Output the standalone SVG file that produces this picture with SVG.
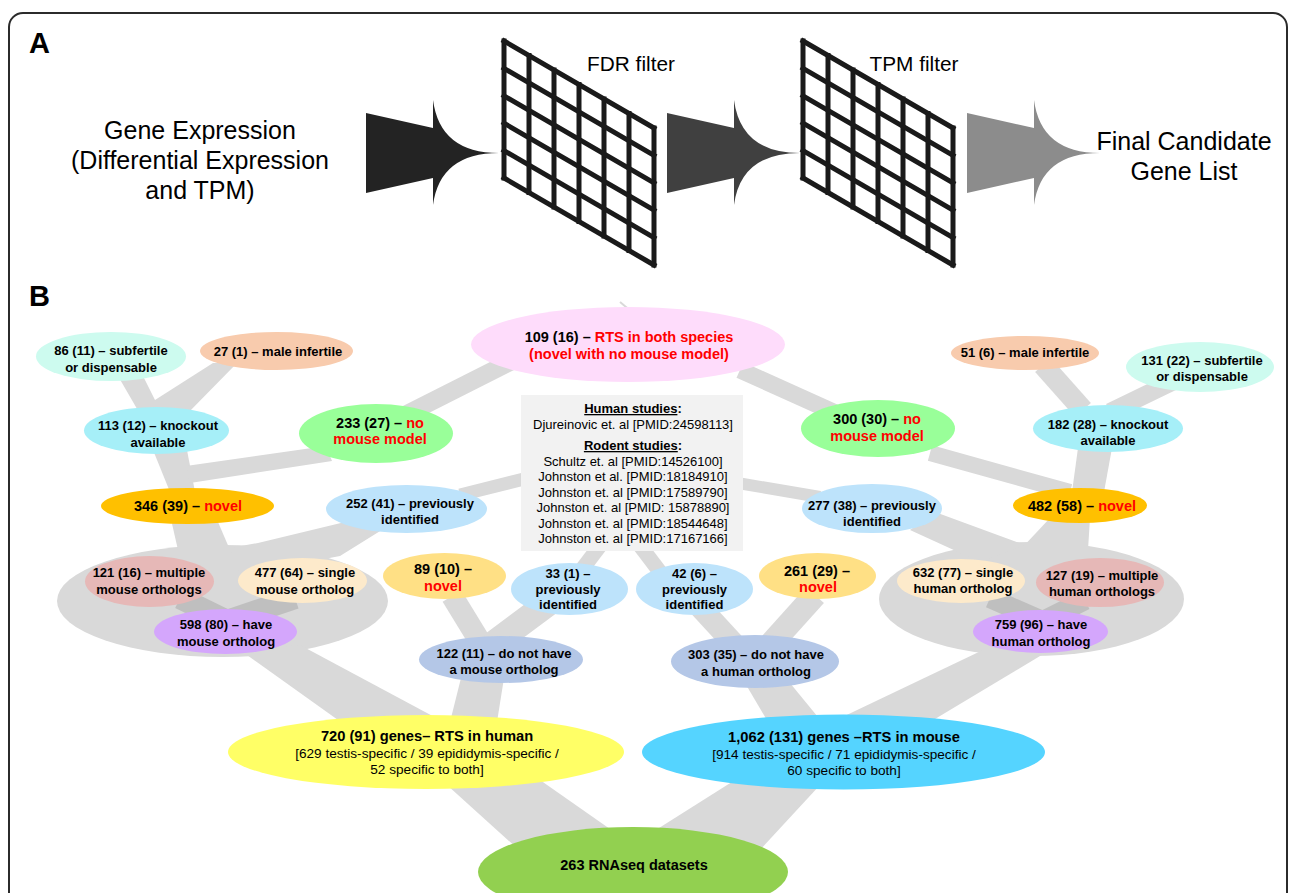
<svg xmlns="http://www.w3.org/2000/svg" width="1290" height="893" viewBox="0 0 1290 893">
<style>
text{font-family:"Liberation Sans",Arial,sans-serif;text-anchor:middle;fill:#000}
.t{font-weight:bold;font-size:13px}
.tl{font-weight:bold;font-size:14.5px}
.tt{font-weight:bold;font-size:14.7px}
.ts{font-size:13.6px}
.bx{font-size:13px}
.red{fill:#ff0000}
.big{font-size:25px}
.flt{font-size:20.8px}
.lab{font-weight:bold;font-size:29px;text-anchor:start}
.br{fill:#d9d9d9}
.ln{stroke:#d9d9d9;fill:none}
.dk{stroke:#bfbfbf;fill:none}
.grid line{stroke:#1a1a1a;stroke-width:5;stroke-linecap:square}
</style>
<defs>
<g id="grid" class="grid">
<line x1="504" y1="41" x2="504" y2="178"/>
<line x1="529" y1="55.5" x2="529" y2="192.5"/>
<line x1="554" y1="70" x2="554" y2="207"/>
<line x1="579" y1="84.5" x2="579" y2="221.5"/>
<line x1="604" y1="99" x2="604" y2="236"/>
<line x1="629" y1="113.5" x2="629" y2="250.5"/>
<line x1="654" y1="128" x2="654" y2="265"/>
<line x1="504" y1="41" x2="654" y2="128"/>
<line x1="504" y1="68.4" x2="654" y2="155.4"/>
<line x1="504" y1="95.8" x2="654" y2="182.8"/>
<line x1="504" y1="123.2" x2="654" y2="210.2"/>
<line x1="504" y1="150.6" x2="654" y2="237.6"/>
<line x1="504" y1="178" x2="654" y2="265"/>
</g>
<path id="arrow" d="M0,113 L67,128 L67,100 Q74,153 133,153 Q74,153 67,205 L67,178 L0,193 Z"/>
</defs>

<rect x="9" y="13" width="1278" height="920" rx="14" fill="none" stroke="#2b2b2b" stroke-width="2"/>

<g id="panel-a">
<text class="lab" x="29" y="53">A</text>
<g id="a-input">
<text class="big" x="200" y="139">Gene Expression</text>
<text class="big" x="200" y="169">(Differential Expression</text>
<text class="big" x="200" y="199">and TPM)</text>
</g>
<use href="#arrow" x="366" fill="#232323"/>
<g id="a-fdr">
<use href="#grid"/>
<text class="flt" x="631" y="71">FDR filter</text>
</g>
<use href="#arrow" x="667" fill="#404040"/>
<g id="a-tpm">
<use href="#grid" x="299"/>
<text class="flt" x="914" y="71">TPM filter</text>
</g>
<use href="#arrow" x="967" fill="#8c8c8c"/>
<g id="a-output">
<text class="big" x="1184" y="150">Final Candidate</text>
<text class="big" x="1184" y="180">Gene List</text>
</g>
</g>

<text class="lab" x="29" y="306">B</text>

<g id="clusters">
<ellipse cx="222.5" cy="601" rx="165.5" ry="56" fill="#d9d9d9"/>
<ellipse cx="1031.5" cy="599" rx="152.5" ry="57" fill="#d9d9d9"/>
</g>

<g id="connectors">
<polygon class="br" points="447,785 540,780 640,850 530,860"/>
<polygon class="br" points="640,840 735,780 820,785 760,850"/>
<polygon class="br" points="240,650 300,645 440,720 345,725"/>
<polygon class="br" points="450,722 497,722 504,678 461,678"/>
<line class="ln" x1="482" y1="645" x2="452" y2="596" stroke-width="22"/>
<line class="ln" x1="492" y1="645" x2="555" y2="598" stroke-width="26"/>
<polygon class="br" points="170,515 215,515 230,550 178,550"/>
<polygon class="br" points="230,548 258,543 345,522 385,528 340,556 240,575"/>
<polygon class="br" points="153,450 187,450 195,492 170,492"/>
<polygon class="br" points="186,466 190,483 332,461 326,446"/>
<polygon class="br" points="118,376 143,376 155,400 213,363 237,363 187,414 140,414"/>
<line class="ln" x1="405" y1="415" x2="510" y2="362" stroke-width="18"/>
<line class="ln" x1="460" y1="495" x2="540" y2="475" stroke-width="13"/>
<line class="ln" x1="580" y1="572" x2="602" y2="543" stroke-width="15"/>
<line class="ln" x1="660" y1="572" x2="638" y2="543" stroke-width="15"/>
<line class="ln" x1="740" y1="370" x2="840" y2="415" stroke-width="17"/>
<line class="ln" x1="720" y1="480" x2="820" y2="497" stroke-width="12"/>
<line class="ln" x1="930" y1="453" x2="1070" y2="492" stroke-width="16"/>
<polygon class="br" points="1078,448 1112,448 1104,492 1072,492"/>
<polygon class="br" points="1050,518 1090,518 1088,550 1020,550"/>
<polygon class="br" points="935,512 1025,545 980,562 910,530"/>
<line class="ln" x1="1083" y1="410" x2="1043" y2="365" stroke-width="21"/>
<line class="ln" x1="1110" y1="412" x2="1172" y2="382" stroke-width="18"/>
<polygon class="br" points="983,650 1050,650 930,722 832,722"/>
<polygon class="br" points="745,683 790,683 822,722 768,722"/>
<line class="ln" x1="735" y1="645" x2="700" y2="607" stroke-width="22"/>
<line class="ln" x1="770" y1="645" x2="815" y2="595" stroke-width="24"/>
<line class="dk" x1="225" y1="620" x2="180" y2="598" stroke-width="22"/>
<line class="dk" x1="230" y1="620" x2="295" y2="598" stroke-width="22"/>
<line class="dk" x1="1040" y1="620" x2="990" y2="598" stroke-width="20"/>
<line class="dk" x1="1045" y1="620" x2="1085" y2="600" stroke-width="20"/>
<line class="ln" x1="620" y1="302" x2="632" y2="312" stroke-width="2"/>
</g>

<g id="studies">
<rect x="521" y="395" width="222" height="156" fill="#f2f2f2"/>
<text class="bx" x="633" y="413" font-weight="bold"><tspan text-decoration="underline">Human studies</tspan>:</text>
<text class="bx" x="633" y="428.5">Djureinovic et. al [PMID:24598113]</text>
<text class="bx" x="633" y="450" font-weight="bold"><tspan text-decoration="underline">Rodent studies</tspan>:</text>
<text class="bx" x="633" y="465.5">Schultz et. al [PMID:14526100]</text>
<text class="bx" x="633" y="481">Johnston et al. [PMID:18184910]</text>
<text class="bx" x="633" y="496.5">Johnston et. al [PMID:17589790]</text>
<text class="bx" x="633" y="512">Johnston et. al [PMID: 15878890]</text>
<text class="bx" x="633" y="527.5">Johnston et. al [PMID:18544648]</text>
<text class="bx" x="633" y="543">Johnston et. al [PMID:17167166]</text>
</g>

<g id="n109"><ellipse cx="628" cy="344.5" rx="157" ry="37.5" fill="#fedcfb"/>
<text class="tl" x="629" y="342">109 (16) – <tspan class="red">RTS in both species</tspan></text>
<text class="tl red" x="629" y="359">(novel with no mouse model)</text></g>

<g id="n86"><ellipse cx="111" cy="356.5" rx="75" ry="24.5" fill="#cdfbef"/>
<text class="t" x="111" y="355">86 (11) – subfertile</text>
<text class="t" x="111" y="372">or dispensable</text></g>

<g id="n27"><ellipse cx="276.5" cy="351" rx="76.5" ry="19" fill="#f8cbad"/>
<text class="t" x="278" y="356">27 (1) – male infertile</text></g>

<g id="n113"><ellipse cx="156.5" cy="430.5" rx="72.5" ry="23.5" fill="#a6eff8"/>
<text class="t" x="158" y="430">113 (12) – knockout</text>
<text class="t" x="158" y="447">available</text></g>

<g id="n233"><ellipse cx="376" cy="433.5" rx="77" ry="29.5" fill="#99ff99"/>
<text class="tl" x="380" y="428">233 (27) – <tspan class="red">no</tspan></text>
<text class="tl red" x="380" y="444">mouse model</text></g>

<g id="n346"><ellipse cx="187.5" cy="506" rx="86.5" ry="18" fill="#ffc000"/>
<text class="tl" x="188" y="511">346 (39) – <tspan class="red">novel</tspan></text></g>

<g id="n252"><ellipse cx="406.5" cy="509" rx="80.5" ry="24" fill="#bde3fb"/>
<text class="t" x="410" y="508">252 (41) – previously</text>
<text class="t" x="410" y="524">identified</text></g>

<g id="n121"><ellipse cx="149.5" cy="581.5" rx="64.5" ry="25.5" fill="#e6b8b7"/>
<text class="t" x="149" y="577">121 (16) – multiple</text>
<text class="t" x="149" y="594">mouse orthologs</text></g>

<g id="n477"><ellipse cx="302.5" cy="580.5" rx="64.5" ry="22.5" fill="#fdeacb"/>
<text class="t" x="305" y="577">477 (64) – single</text>
<text class="t" x="305" y="594">mouse ortholog</text></g>

<g id="n598"><ellipse cx="225.5" cy="631.5" rx="71.5" ry="22.5" fill="#d4a6fc"/>
<text class="t" x="226" y="629">598 (80) – have</text>
<text class="t" x="226" y="646">mouse ortholog</text></g>

<g id="n89"><ellipse cx="444.5" cy="576" rx="61.5" ry="23" fill="#ffe085"/>
<text class="tl" x="443" y="574">89 (10) –</text>
<text class="tl red" x="443" y="591">novel</text></g>

<g id="n33"><ellipse cx="569.5" cy="589" rx="58.5" ry="26" fill="#bde3fb"/>
<text class="t" x="568" y="578">33 (1) –</text>
<text class="t" x="568" y="594">previously</text>
<text class="t" x="568" y="609">identified</text></g>

<g id="n42"><ellipse cx="694.5" cy="589" rx="58.5" ry="26" fill="#bde3fb"/>
<text class="t" x="694.5" y="578">42 (6) –</text>
<text class="t" x="694.5" y="594">previously</text>
<text class="t" x="694.5" y="609">identified</text></g>

<g id="n261"><ellipse cx="817.5" cy="576" rx="58.5" ry="23" fill="#ffe085"/>
<text class="tl" x="817" y="576">261 (29) –</text>
<text class="tl red" x="818" y="592">novel</text></g>

<g id="n122"><ellipse cx="501" cy="659.5" rx="82" ry="23.5" fill="#b4c7e7"/>
<text class="t" x="504" y="658">122 (11) – do not have</text>
<text class="t" x="504" y="674">a mouse ortholog</text></g>

<g id="n303"><ellipse cx="755" cy="661.5" rx="84" ry="26.5" fill="#b4c7e7"/>
<text class="t" x="756" y="659">303 (35) – do not have</text>
<text class="t" x="756" y="676">a human ortholog</text></g>

<g id="n720"><ellipse cx="426" cy="752" rx="198" ry="37" fill="#ffff66"/>
<text class="tt" x="427" y="741">720 (91) genes– RTS in human</text>
<text class="ts" x="427" y="758">[629 testis-specific / 39 epididymis-specific /</text>
<text class="ts" x="427" y="774">52 specific to both]</text></g>

<g id="n1062"><ellipse cx="843.5" cy="752" rx="201.5" ry="37.5" fill="#55d4ff"/>
<text class="tt" x="844" y="742">1,062 (131) genes –RTS in mouse</text>
<text class="ts" x="844" y="759">[914 testis-specific / 71 epididymis-specific /</text>
<text class="ts" x="844" y="775">60 specific to both]</text></g>

<g id="n263"><ellipse cx="633" cy="872" rx="155" ry="45" fill="#92d050"/>
<text class="tl" x="634" y="870">263 RNAseq datasets</text></g>

<g id="n300"><ellipse cx="878" cy="428.5" rx="77" ry="28.5" fill="#99ff99"/>
<text class="tl" x="877" y="424">300 (30) – <tspan class="red">no</tspan></text>
<text class="tl red" x="877" y="441">mouse model</text></g>

<g id="n277"><ellipse cx="872" cy="508.5" rx="70" ry="24.5" fill="#bde3fb"/>
<text class="t" x="872" y="510">277 (38) – previously</text>
<text class="t" x="872" y="526">identified</text></g>

<g id="n482"><ellipse cx="1080" cy="505.5" rx="67" ry="17.5" fill="#ffc000"/>
<text class="tl" x="1082" y="511">482 (58) – <tspan class="red">novel</tspan></text></g>

<g id="n51"><ellipse cx="1025" cy="353" rx="74" ry="17" fill="#f8cbad"/>
<text class="t" x="1025" y="357">51 (6) – male infertile</text></g>

<g id="n131"><ellipse cx="1200" cy="367" rx="74" ry="25" fill="#cdfbef"/>
<text class="t" x="1202" y="365">131 (22) – subfertile</text>
<text class="t" x="1202" y="381">or dispensable</text></g>

<g id="n182"><ellipse cx="1108" cy="428.5" rx="75" ry="23.5" fill="#a6eff8"/>
<text class="t" x="1108" y="429">182 (28) – knockout</text>
<text class="t" x="1108" y="445">available</text></g>

<g id="n632"><ellipse cx="961" cy="581" rx="64" ry="22" fill="#fdeacb"/>
<text class="t" x="963" y="577">632 (77) – single</text>
<text class="t" x="963" y="593">human ortholog</text></g>

<g id="n127"><ellipse cx="1100" cy="582.5" rx="64" ry="24.5" fill="#e6b8b7"/>
<text class="t" x="1102" y="580">127 (19) – multiple</text>
<text class="t" x="1102" y="596">human orthologs</text></g>

<g id="n759"><ellipse cx="1040.5" cy="631.5" rx="67.5" ry="21.5" fill="#d4a6fc"/>
<text class="t" x="1041" y="629">759 (96) – have</text>
<text class="t" x="1041" y="646">human ortholog</text></g>
</svg>
